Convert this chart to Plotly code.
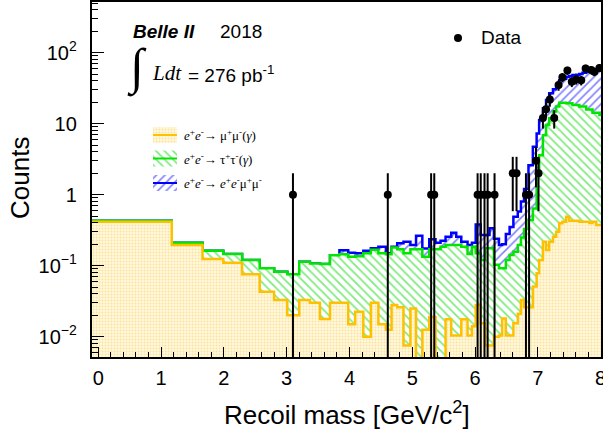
import numpy as np
import plotly.graph_objects as go

# ---------------- data ----------------
bin_edges = [-0.2, 1.17, 1.66, 1.99, 2.29, 2.57, 2.80, 3.01, 3.20, 3.37, 3.53, 3.69, 3.84, 3.98,
             4.09, 4.22, 4.34, 4.46, 4.58, 4.67, 4.76, 4.86, 4.97, 5.06, 5.16, 5.27, 5.37, 5.45,
             5.53, 5.62, 5.70, 5.78, 5.88, 5.95, 6.01, 6.09, 6.16, 6.23, 6.30, 6.38, 6.43, 6.49,
             6.55, 6.61, 6.68, 6.73, 6.78, 6.85, 6.92, 6.98, 7.02, 7.08, 7.13, 7.18, 7.24, 7.29,
             7.34, 7.39, 7.45, 7.50, 7.55, 7.61, 7.66, 7.71, 7.77, 7.82, 7.87, 7.93, 7.98, 8.03]

# stacked levels: mu mu (gamma)
stack_mumu = [0.417, 0.196, 0.124, 0.110, 0.076, 0.043, 0.033, 0.020, 0.033, 0.030, 0.0177, 0.030,
              0.030, 0.015, 0.0225, 0.010, 0.030, 0.015, 0.0125, 0.028, 0.026, 0.0075, 0.025, 0.004,
              0.0125, 0.019, 0.004, 0.004, 0.0176, 0.0104, 0.0104, 0.0176, 0.0104, 0.014, 0.028,
              0.0155, 0.0075, 0.0075, 0.010, 0.0104, 0.018, 0.0104, 0.0104, 0.0155, 0.021, 0.033,
              0.026, 0.026, 0.051, 0.078, 0.12, 0.218, 0.167, 0.218, 0.256, 0.30, 0.395, 0.417,
              0.49, 0.43, 0.43, 0.43, 0.417, 0.417, 0.417, 0.40, 0.417, 0.374, 0.374]
# stacked levels: mu mu (gamma) + tau tau (gamma)
stack_mumu_tautau = [0.43, 0.211, 0.163, 0.146, 0.120, 0.092, 0.082, 0.076, 0.114, 0.107, 0.106, 0.140,
                     0.145, 0.134, 0.136, 0.150, 0.168, 0.150, 0.145, 0.180, 0.170, 0.150, 0.170, 0.170,
                     0.134, 0.170, 0.170, 0.185, 0.196, 0.196, 0.196, 0.185, 0.146, 0.185, 0.150,
                     0.120, 0.176, 0.176, 0.103, 0.092, 0.092, 0.120, 0.141, 0.157, 0.196, 0.250,
                     0.330, 0.440, 0.640, 2.0, 3.6, 6.9, 9.6, 11.9, 14.8, 17.4, 19.8, 19.8,
                     19.4, 19.4, 18.3, 18.3, 17.4, 17.4, 15.9, 15.9, 14.3, 14.3, 13.3]
# stacked levels: + e e mu mu (total)
stack_total = [0.43, 0.211, 0.163, 0.146, 0.120, 0.092, 0.082, 0.076, 0.114, 0.107, 0.106, 0.140,
               0.165, 0.152, 0.150, 0.163, 0.176, 0.185, 0.150, 0.185, 0.207, 0.218, 0.195, 0.265,
               0.175, 0.236, 0.210, 0.225, 0.256, 0.292, 0.256, 0.218, 0.196, 0.210, 0.380,
               0.270, 0.270, 0.336, 0.240, 0.195, 0.200, 0.280, 0.350, 0.490, 0.580, 0.800,
               1.20, 2.60, 4.75, 7.3, 11.3, 16.5, 21.6, 26.8, 30.5, 35.0, 41.0, 43.0,
               46.0, 47.0, 48.5, 49.0, 50.0, 52.0, 54.0, 55.0, 56.0, 57.0, 58.0]

data_mass = [3.10, 4.61, 5.30, 5.35, 6.04, 6.09, 6.15, 6.20, 6.31, 6.60, 6.66, 6.81, 6.86,
             6.97, 7.01, 7.08, 7.13, 7.19, 7.26, 7.33, 7.39, 7.47, 7.54, 7.61, 7.69, 7.76,
             7.85, 7.90, 7.98]
data_counts = [1, 1, 1, 1, 1, 1, 1, 1, 1, 2, 2, 1, 1,
               3, 2, 12, 16, 22, 12, 35, 45, 56, 39, 42, 41, 60,
               57, 54, 61]

x_ticks = [0, 1, 2, 3, 4, 5, 6, 7, 8]
x_last_label = "8"

# ---------------- figure geometry ----------------
W, H = 603, 433
ML, MR, MT, MB = 92, 2, 2, 76
PW, PH = W - ML - MR, H - MT - MB


def px(x):
    return (x - ML) / PW


def py(y):
    return (H - MB - y) / PH


YELLOW = "#ffc000"
GREEN = "#00e600"
BLUE = "#0000ff"

yellow_pat = dict(shape=".", fgcolor="#f2cf63", bgcolor="#fff8dc", size=3, solidity=0.35)
green_pat = dict(shape="\\", fgcolor="#00d800", bgcolor="white", size=6, solidity=0.3)
blue_pat = dict(shape="/", fgcolor="#0000ff", bgcolor="white", size=6, solidity=0.26)


def steps(vals):
    return list(vals) + [vals[-1]]


fig = go.Figure()

fig.add_trace(go.Scatter(x=bin_edges, y=steps(stack_total), mode="lines", line_shape="hv",
                         line=dict(color=BLUE, width=2.5), fill="tozeroy",
                         fillpattern=blue_pat, fillcolor="white", showlegend=False,
                         hoverinfo="skip"))
fig.add_trace(go.Scatter(x=bin_edges, y=steps(stack_mumu_tautau), mode="lines", line_shape="hv",
                         line=dict(color=GREEN, width=2.5), fill="tozeroy",
                         fillpattern=green_pat, fillcolor="white", showlegend=False,
                         hoverinfo="skip"))
fig.add_trace(go.Scatter(x=bin_edges, y=steps(stack_mumu), mode="lines", line_shape="hv",
                         line=dict(color=YELLOW, width=2.5), fill="tozeroy",
                         fillpattern=yellow_pat, fillcolor="#fff8dc", showlegend=False,
                         hoverinfo="skip"))

counts = np.array(data_counts, dtype=float)
err = np.sqrt(counts)
err_minus = np.where(counts - err <= 0, counts * 0.9999, err)
fig.add_trace(go.Scatter(x=data_mass, y=data_counts, mode="markers",
                         marker=dict(color="black", size=8),
                         error_y=dict(type="data", array=err, arrayminus=err_minus,
                                      color="black", thickness=2, width=0),
                         showlegend=False, hoverinfo="skip"))

# ---------------- legend (pixel overlay axes) ----------------
legend_rows = [
    (135, YELLOW, yellow_pat, "#fff8dc"),
    (158.5, GREEN, green_pat, "white"),
    (183, BLUE, blue_pat, "white"),
]
for cy, col, pat, bg in legend_rows:
    fig.add_trace(go.Scatter(x=[153, 177, 177, 153, 153], y=[cy - 8, cy - 8, cy + 8, cy + 8, cy - 8],
                             xaxis="x2", yaxis="y2", mode="lines", line=dict(width=0),
                             fill="toself", fillpattern=pat, fillcolor=bg,
                             showlegend=False, hoverinfo="skip"))
    fig.add_trace(go.Scatter(x=[153, 177], y=[cy, cy], xaxis="x2", yaxis="y2", mode="lines",
                             line=dict(color=col, width=2), showlegend=False, hoverinfo="skip"))

fig.add_trace(go.Scatter(x=[458], y=[38], xaxis="x2", yaxis="y2", mode="markers",
                         marker=dict(color="black", size=8), showlegend=False, hoverinfo="skip"))

SANS = "Liberation Sans, Arial, sans-serif"
SERIF = "Liberation Serif, Times New Roman, serif"

ann = []


def add_text(text, x, y, size, family=SANS, xanchor="left", yanchor="middle", angle=0):
    ann.append(dict(text=text, x=px(x), y=py(y), xref="paper", yref="paper", showarrow=False,
                    xanchor=xanchor, yanchor=yanchor, textangle=angle,
                    font=dict(family=family, size=size, color="black")))


add_text("<b><i>Belle II</i></b>", 131, 31, 19)
add_text("2018", 218, 31, 19)
add_text("∫", 137, 68, 50, family=SERIF, xanchor="center")
add_text("<i>Ldt</i>", 150, 73, 21, family=SERIF)
add_text("= 276 pb<sup>-1</sup>", 186, 74, 19)
add_text("Data", 479, 38, 19)
add_text("<i>e</i><sup>+</sup><i>e</i><sup>-</sup>→ μ<sup>+</sup>μ<sup>-</sup>(<i>γ</i>)", 182, 135, 13, family=SERIF)
add_text("<i>e</i><sup>+</sup><i>e</i><sup>-</sup>→ τ<sup>+</sup>τ<sup>-</sup>(<i>γ</i>)", 182, 158.5, 13, family=SERIF)
add_text("<i>e</i><sup>+</sup><i>e</i><sup>-</sup>→ <i>e</i><sup>+</sup><i>e</i><sup>-</sup>μ<sup>+</sup>μ<sup>-</sup>",
         182, 183, 13, family=SERIF)
add_text("Recoil mass [GeV/c<sup>2</sup>]", 347, 413, 26, xanchor="center")
add_text("Counts", 20, 178, 26, xanchor="center", angle=-90)

# last x tick label sits on the frame edge and is cut by the page border, as in the reference
ann.append(dict(text=x_last_label, x=x_ticks[-1], xref="x", y=py(378), yref="paper",
                showarrow=False, xanchor="center", yanchor="middle",
                font=dict(family=SANS, size=20, color="black")))

fig.update_layout(
    width=W, height=H,
    margin=dict(l=ML, r=MR, t=MT, b=MB, pad=0),
    paper_bgcolor="white", plot_bgcolor="white",
    font=dict(family=SANS, color="black"),
    showlegend=False,
    annotations=ann,
    xaxis=dict(range=[-0.1, 8.005], tickmode="array", tickvals=x_ticks,
               ticks="inside", ticklen=10, tickwidth=1, tickcolor="black",
               minor=dict(ticks="inside", ticklen=5, dtick=0.2, tickcolor="black", tickwidth=1),
               showline=True, linecolor="black", linewidth=2, mirror=True,
               showgrid=False, zeroline=False, automargin=False,
               tickfont=dict(size=20, family=SANS), ticklabelstandoff=2),
    yaxis=dict(type="log", range=[-2.286, 2.714], dtick=1, exponentformat="power",
               ticks="inside", ticklen=12, tickwidth=1, tickcolor="black",
               minor=dict(ticks="inside", ticklen=6, dtick="D1", tickcolor="black", tickwidth=1),
               showline=True, linecolor="black", linewidth=2, mirror=True,
               showgrid=False, zeroline=False, automargin=False,
               tickfont=dict(size=16, family=SANS), ticklabelstandoff=10),
    xaxis2=dict(overlaying="x", range=[ML, W - MR], visible=False, anchor="y2"),
    yaxis2=dict(overlaying="y", range=[H - MB, MT], visible=False, anchor="x2"),
)

fig.write_html("out.html", config={"displayModeBar": False},
               post_script="document.body.style.margin='0px';document.body.style.overflow='hidden';")
